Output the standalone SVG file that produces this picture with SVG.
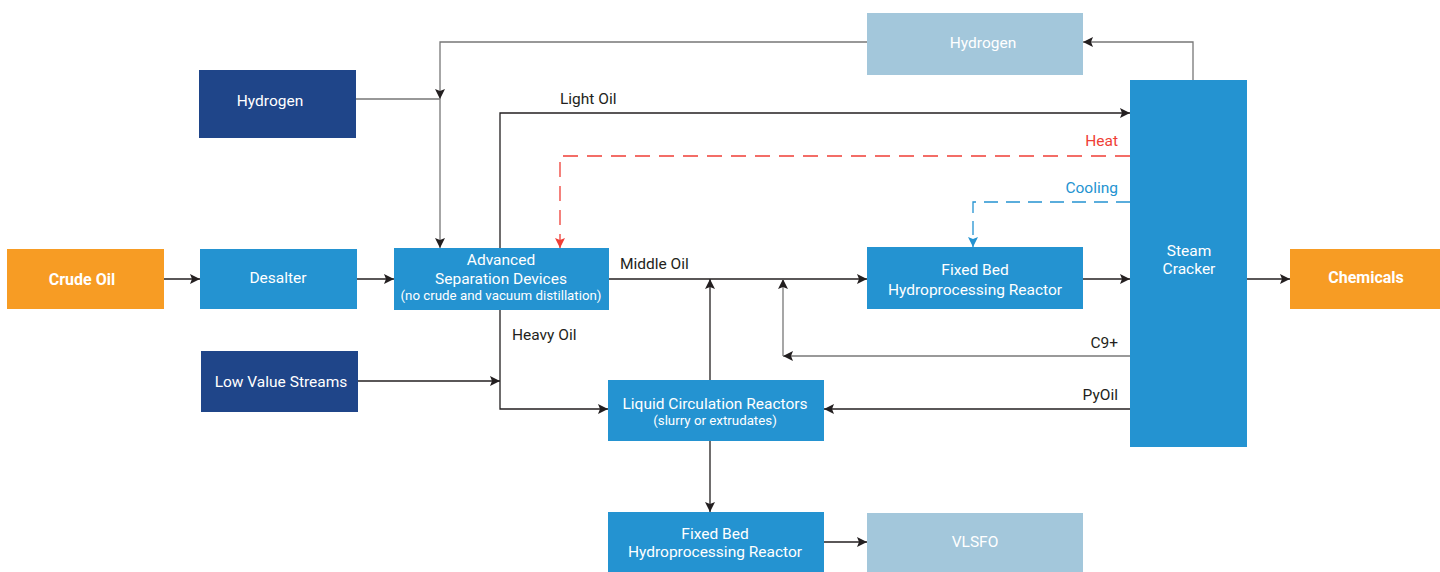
<svg xmlns="http://www.w3.org/2000/svg" width="1440" height="572" viewBox="0 0 1440 572">
<defs>
<marker id="ah" viewBox="0 0 10 10" refX="10" refY="5" markerWidth="10" markerHeight="10" markerUnits="userSpaceOnUse" orient="auto">
<path d="M0,0 L10,5 L0,10 L2,5 Z" fill="#231f20"/>
</marker>
<marker id="ahr" viewBox="0 0 10 10" refX="10" refY="5" markerWidth="10" markerHeight="10" markerUnits="userSpaceOnUse" orient="auto">
<path d="M0,0 L10,5 L0,10 L2,5 Z" fill="#ef3e36"/>
</marker>
<marker id="ahb" viewBox="0 0 10 10" refX="10" refY="5" markerWidth="10" markerHeight="10" markerUnits="userSpaceOnUse" orient="auto">
<path d="M0,0 L10,5 L0,10 L2,5 Z" fill="#2493d1"/>
</marker>
</defs>
<style>
text{font-family:Roboto,"Liberation Sans",sans-serif;}
.t{fill:#fff;font-size:15.5px;text-anchor:middle;}
.s{fill:#fff;font-size:13.3px;text-anchor:middle;}
.b{fill:#fff;font-size:16px;font-weight:bold;text-anchor:middle;}
.l{fill:#231f20;font-size:15.5px;}
.c{fill:none;stroke:#231f20;stroke-width:1.3;}
.g{fill:none;stroke:#777;stroke-width:1.3;}
.org{fill:#f79c24;}
.mid{fill:#2493d1;}
.dark{fill:#1f4589;}
.light{fill:#a3c7db;}
</style>
<rect width="1440" height="572" fill="#fff"/>
<g id="connectors">
<path class="c" d="M164,279 H200" marker-end="url(#ah)"/>
<path class="c" d="M357,279 H394" marker-end="url(#ah)"/>
<path class="g" d="M867,42 H440 V99" marker-end="url(#ah)"/>
<path class="g" d="M356,99 H440 V248" marker-end="url(#ah)"/>
<path class="g" d="M1193,80 V42 H1083" marker-end="url(#ah)"/>
<path class="c" d="M500,248 V113 H1130" marker-end="url(#ah)"/>
<path fill="none" stroke="#ef3e36" stroke-width="1.3" stroke-dasharray="15,9" d="M1130,156 H560 V248" marker-end="url(#ahr)"/>
<path fill="none" stroke="#2493d1" stroke-width="1.3" stroke-dasharray="14,8" d="M1130,202 H973 V247" marker-end="url(#ahb)"/>
<path class="c" d="M609,279 H867" marker-end="url(#ah)"/>
<path class="c" d="M1083,279 H1130" marker-end="url(#ah)"/>
<path class="c" d="M1247,279 H1290" marker-end="url(#ah)"/>
<path class="c" d="M710,380 V279" marker-end="url(#ah)"/>
<path class="g" d="M1130,356 H783" marker-end="url(#ah)"/>
<path class="g" d="M783,356 V279" marker-end="url(#ah)"/>
<path class="c" d="M1130,409 H824" marker-end="url(#ah)"/>
<path class="c" d="M500,310 V409 H608" marker-end="url(#ah)"/>
<path class="c" d="M358,381 H500" marker-end="url(#ah)"/>
<path class="c" d="M710,441 V512" marker-end="url(#ah)"/>
<path class="c" d="M824,542 H867" marker-end="url(#ah)"/>
<text class="l" x="560" y="104">Light Oil</text>
<text x="1118" y="146" font-size="15.5" fill="#ef3e36" text-anchor="end">Heat</text>
<text x="1118" y="193" font-size="15.5" fill="#2493d1" text-anchor="end">Cooling</text>
<text class="l" x="620" y="269">Middle Oil</text>
<text class="l" x="512" y="340">Heavy Oil</text>
<text class="l" x="1118" y="348" text-anchor="end">C9+</text>
<text class="l" x="1118" y="400" text-anchor="end">PyOil</text>
</g>
<g id="crude"><rect class="org" x="7" y="249" width="157" height="60"/><text class="b" x="82" y="285">Crude Oil</text></g>
<g id="desalter"><rect class="mid" x="200" y="249" width="157" height="60"/><text class="t" x="278" y="283">Desalter</text></g>
<g id="hydrogen1"><rect class="dark" x="199" y="70" width="157" height="68"/><text class="t" x="270" y="106">Hydrogen</text></g>
<g id="lowvalue"><rect class="dark" x="201" y="351" width="157" height="61"/><text class="t" x="281" y="387">Low Value Streams</text></g>
<g id="asd"><rect class="mid" x="394" y="248" width="215" height="62"/>
<text class="t" x="501" y="265">Advanced</text>
<text class="t" x="501" y="284">Separation Devices</text>
<text class="s" x="501" y="300">(no crude and vacuum distillation)</text></g>
<g id="hydrogen2"><rect class="light" x="867" y="13" width="216" height="62"/><text class="t" x="983" y="48">Hydrogen</text></g>
<g id="fixedbed1"><rect class="mid" x="867" y="247" width="216" height="62"/>
<text class="t" x="975" y="275">Fixed Bed</text>
<text class="t" x="975" y="295">Hydroprocessing Reactor</text></g>
<g id="steamcracker"><rect class="mid" x="1130" y="80" width="117" height="367"/>
<text class="t" x="1189" y="256">Steam</text>
<text class="t" x="1189" y="274">Cracker</text></g>
<g id="chemicals"><rect class="org" x="1290" y="249" width="150" height="60"/><text class="b" x="1366" y="283">Chemicals</text></g>
<g id="lcr"><rect class="mid" x="608" y="380" width="216" height="61"/>
<text class="t" x="715" y="409">Liquid Circulation Reactors</text>
<text class="s" x="715" y="425">(slurry or extrudates)</text></g>
<g id="fixedbed2"><rect class="mid" x="608" y="512" width="216" height="60"/>
<text class="t" x="715" y="539">Fixed Bed</text>
<text class="t" x="715" y="557">Hydroprocessing Reactor</text></g>
<g id="vlsfo"><rect class="light" x="867" y="513" width="216" height="59"/><text class="t" x="975" y="547">VLSFO</text></g>
</svg>
